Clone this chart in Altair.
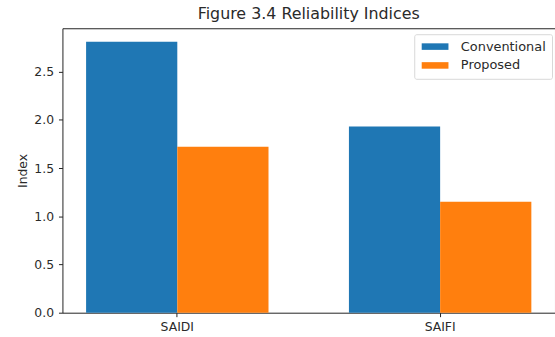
import altair as alt
import pandas as pd

categories = ["SAIDI", "SAIFI"]
methods = ["Conventional", "Proposed"]
conventional = [2.81, 1.93]
proposed = [1.72, 1.15]

rows = []
for i, c in enumerate(categories):
    rows.append({"index": c, "method": methods[0], "value": conventional[i]})
    rows.append({"index": c, "method": methods[1], "value": proposed[i]})
df = pd.DataFrame(rows)

FONT = "DejaVu Sans"
TXT = "#2a2a2a"

chart = alt.Chart(df).mark_bar(stroke=None).encode(
    x=alt.X("index:N", sort=categories,
            scale=alt.Scale(paddingInner=0.306, paddingOuter=0.09),
            axis=alt.Axis(title=None, labelAngle=0, domain=False, tickColor="#222",
                          tickSize=4, labelPadding=4, labelFontSize=12.5,
                          labelColor=TXT, labelFont=FONT)),
    xOffset=alt.XOffset("method:N", sort=methods,
                        scale=alt.Scale(paddingInner=0, paddingOuter=0)),
    y=alt.Y("value:Q",
            scale=alt.Scale(domain=[0, 2.95], nice=False, zero=True),
            axis=alt.Axis(title="Index", values=[0, 0.5, 1.0, 1.5, 2.0, 2.5],
                          format=".1f", grid=False, domain=False, tickColor="#222",
                          tickSize=4, labelPadding=5, labelFontSize=12.5,
                          labelColor=TXT, labelFont=FONT, titleFont=FONT,
                          titleFontSize=12.5, titleFontWeight="normal",
                          titleColor=TXT, titlePadding=4)),
    color=alt.Color("method:N", sort=methods,
                    scale=alt.Scale(domain=methods, range=["#1f77b4", "#ff7f0e"]),
                    legend=alt.Legend(title=None, orient="none", legendX=355, legendY=6,
                                      symbolType="M-2.25,-0.55H2.25V0.55H-2.25Z",
                                      symbolSize=144, symbolOffset=8.5,
                                      symbolStrokeWidth=0, labelFont=FONT,
                                      labelFontSize=13, labelColor=TXT,
                                      strokeColor="#d8d8d8", fillColor="white",
                                      padding=6, rowPadding=5, labelOffset=19.5,
                                      cornerRadius=2)),
).properties(
    width=497,
    height=287,
    title=alt.TitleParams("Figure 3.4 Reliability Indices", font=FONT, fontSize=16,
                          fontWeight="normal", color=TXT, offset=6),
    autosize=alt.AutoSizeParams(type="none"),
    padding={"left": 63, "top": 27, "right": 0, "bottom": 23},
).configure(
    background="white",
    view=alt.ViewConfig(stroke="#222", strokeWidth=1),
)

chart.save("out.html", embed_options={"renderer": "svg", "actions": False})
